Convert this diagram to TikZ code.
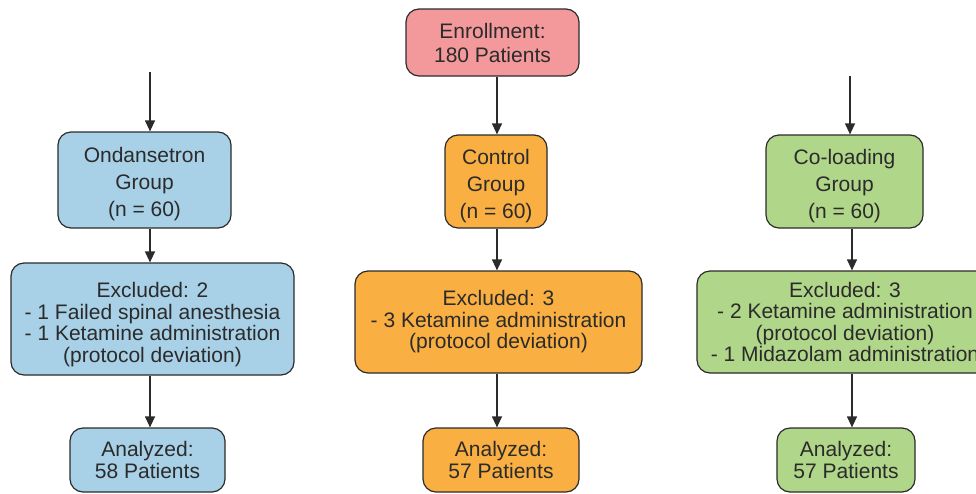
\documentclass[tikz,border=0pt]{standalone}
\usepackage{fontspec}
\setmainfont{Liberation Sans}
\usetikzlibrary{positioning,arrows.meta}

\definecolor{enrollpink}{HTML}{F4999B}
\definecolor{ondblue}{HTML}{A8D0E6}
\definecolor{ctrlorange}{HTML}{F9AF42}
\definecolor{cogreen}{HTML}{B0D68A}
\definecolor{edgegray}{HTML}{2B2B2B}

% extra room above the first line, pushes a text down
\newcommand{\topgap}[1]{\rule{0pt}{#1}}

\begin{document}
\begin{tikzpicture}[x=1pt,y=-1pt,
box/.style={draw=edgegray,line width=1.2pt,rectangle,rounded corners=13pt,
    align=center,inner sep=0pt,text=edgegray},
grp/.style={box,font=\fontsize{21}{27}\selectfont},
excl/.style={box,font=\fontsize{21}{21.5}\selectfont},
ana/.style={box,font=\fontsize{21}{22}\selectfont,minimum width=#1,minimum height=64pt},
flow/.style={draw=edgegray,line width=1.2pt,-{Triangle[width=10pt,length=11pt]}}]
\useasboundingbox (0,0) rectangle (976,493);

% enrollment
\node (enroll) [box,fill=enrollpink,minimum width=173pt,minimum height=67pt,
    font=\fontsize{21}{24}\selectfont] at (492.5,42.5) {Enrollment:\\180 Patients};

% groups
\node (ondgrp) [grp,fill=ondblue,minimum width=173pt,minimum height=96pt]
    at (144.5,180) {\topgap{24pt}Ondansetron\\Group\\(n = 60)};
\node (ctrlgrp) [grp,fill=ctrlorange,minimum width=102pt,minimum height=93pt]
    at (496,181.5) {\topgap{24pt}Control\\Group\\(n = 60)};
\node (cogrp) [grp,fill=cogreen,minimum width=157pt,minimum height=93pt]
    at (844.5,181.5) {\topgap{24pt}Co-loading\\Group\\(n = 60)};

% exclusions
\node (ondexcl) [excl,fill=ondblue,minimum width=283pt,minimum height=112pt]
    at (152.5,319) {\topgap{26pt}Excluded: 2\\- 1 Failed spinal anesthesia\\- 1 Ketamine administration\\(protocol deviation)};
\node (ctrlexcl) [excl,fill=ctrlorange,minimum width=287pt,minimum height=102pt]
    at (498.5,322) {Excluded: 3\\- 3 Ketamine administration\\(protocol deviation)};
\node (coexcl) [excl,fill=cogreen,minimum width=296pt,minimum height=102pt]
    at (845,322) {Excluded: 3\\- 2 Ketamine administration\\(protocol deviation)\\- 1 Midazolam administration};

% analyzed
\node (ondana) [ana=155pt,fill=ondblue] at (147.5,460) {Analyzed:\\58 Patients};
\node (ctrlana) [ana=156pt,fill=ctrlorange] at (501,460) {Analyzed:\\57 Patients};
\node (coana) [ana=138pt,fill=cogreen] at (846,460) {Analyzed:\\57 Patients};

% arrow lanes
\coordinate (ondtop) at (150,72);
\coordinate (cotop) at (850,76);
\coordinate (ctrllane) at (497,0);
\coordinate (colane) at (852,0);

\draw[flow] (ondtop) -- (ondtop |- ondgrp.north);
\draw[flow] (ondgrp.south -| ondtop) -- (ondexcl.north -| ondtop);
\draw[flow] (ondexcl.south -| ondtop) -- (ondana.north -| ondtop);

\draw[flow] (enroll.south -| ctrllane) -- (ctrlgrp.north -| ctrllane);
\draw[flow] (ctrlgrp.south -| ctrllane) -- (ctrlexcl.north -| ctrllane);
\draw[flow] (ctrlexcl.south -| ctrllane) -- (ctrlana.north -| ctrllane);

\draw[flow] (cotop) -- (cotop |- cogrp.north);
\draw[flow] (cogrp.south -| colane) -- (coexcl.north -| colane);
\draw[flow] (coexcl.south -| colane) -- (coana.north -| colane);
\end{tikzpicture}
\end{document}
